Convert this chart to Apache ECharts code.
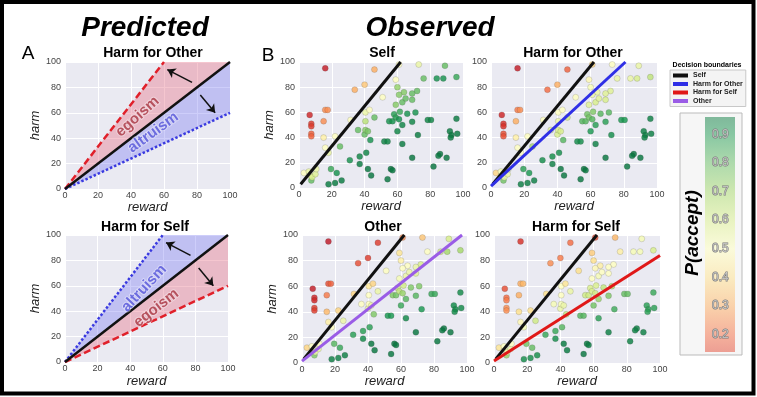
<!DOCTYPE html>
<html>
<head>
<meta charset="utf-8">
<script src="https://cdn.jsdelivr.net/npm/echarts@6/dist/echarts.min.js"></script>
<style>
html,body{margin:0;padding:0;background:#fff;}
#chart{width:757px;height:397px;}
</style>
</head>
<body>
<div id="chart"></div>
<script>
// trials (same reward/harm pairs in every observed panel)
var reward = [16,46,73,61,89,40,34,59,76,84,88,60,51,64,61,72,69,63,59,65,69,6.5,7.5,7.5,7.5,7.5,15,16,17.5,15,16,18,22,31.5,40.5,43,40.5,46,36,40,40.5,42,43.5,41,55,57,52,54,58,59,61,61.5,60,63,63,66,69,71,72.5,69,78.5,80.5,96,86,85,82,90,92,93,92.5,96.5,25,31,37,37,42,44,56,57,54,19.5,23,18,22,26,7.5,3,7,8,10,10.5,6,96];
var harm = [95,94,98,98,97,82,78,86,87,87,87,80,72,76,74,77,75,68,66,71,70,58,51,49,43,41,53,62,62,40,32,28,41,54,60,62,53,56,46,42.5,46,45,38,28,53,53,37,37,58.5,56,54.5,60.5,45,50,35,59,52.5,60,42,24,54,54,55,27,25.5,17,24,45,42,40,43,33,22,25,19,15,10,15,14,7,15,12,3,4,6,6,12,10,8.5,11,15,13,88];
var pSelf = [.06,.3,.55,.5,.8,.35,.3,.5,.8,.91,.91,.73,.5,.75,.75,.8,.8,.8,.75,.8,.8,.08,.12,.12,.18,.18,.25,.25,.25,.45,.5,.55,.5,.5,.55,.5,.66,.8,.8,.8,.75,.77,.91,.94,.91,.91,.94,.94,.88,.88,.91,.86,.94,.94,.96,.91,.94,.91,.96,.97,.94,.94,.96,.97,.97,.97,.97,.96,.96,.96,.96,.8,.91,.94,.96,.97,.97,.97,.97,.97,.86,.91,.96,.96,.96,.8,.5,.55,.6,.58,.55,.55,.86];
var pHarmOther = [.06,.18,.5,.38,.55,.3,.2,.48,.55,.55,.6,.52,.5,.55,.55,.58,.58,.6,.58,.58,.6,.08,.1,.1,.15,.15,.3,.22,.25,.45,.5,.5,.5,.5,.5,.5,.55,.62,.58,.6,.6,.6,.82,.92,.82,.82,.92,.92,.78,.78,.82,.76,.9,.88,.95,.82,.88,.82,.92,.97,.9,.9,.95,.97,.97,.97,.97,.95,.95,.95,.95,.7,.92,.92,.95,.97,.97,.97,.97,.97,.88,.9,.95,.95,.95,.78,.38,.52,.55,.55,.52,.52,.65];
var pOther = [.05,.12,.35,.25,.6,.12,.15,.42,.5,.62,.7,.45,.5,.5,.5,.6,.55,.55,.52,.55,.58,.06,.08,.08,.12,.12,.22,.15,.18,.32,.45,.5,.38,.38,.42,.38,.5,.55,.5,.55,.5,.55,.76,.88,.76,.78,.9,.9,.62,.65,.72,.62,.86,.82,.93,.76,.82,.76,.9,.97,.86,.86,.93,.97,.97,.97,.97,.93,.93,.93,.93,.55,.88,.88,.93,.97,.97,.97,.97,.97,.82,.86,.95,.95,.95,.76,.38,.5,.55,.55,.5,.5,.7];
var pHarmSelf = [.1,.2,.32,.15,.52,.22,.25,.36,.45,.52,.52,.4,.4,.45,.48,.5,.5,.52,.5,.5,.5,.15,.2,.22,.25,.25,.3,.3,.32,.4,.48,.52,.4,.4,.5,.42,.5,.55,.52,.55,.52,.55,.65,.82,.62,.62,.82,.82,.6,.6,.62,.6,.78,.72,.88,.65,.76,.68,.85,.95,.8,.8,.86,.95,.95,.95,.95,.88,.88,.88,.88,.62,.86,.86,.92,.96,.96,.96,.96,.97,.78,.8,.92,.92,.92,.72,.42,.5,.55,.55,.5,.5,.6];

var axisMin = 0, axisMax = 100, axisStep = 20;
var cbTicks = [0.2,0.3,0.4,0.5,0.6,0.7,0.8,0.9];
var cbRange = [0.14, 0.96];

// fitted decision boundaries (start, end)
var boundSelf = [[1,3],[62,100]];
var boundHarmOther = [[0,1.5],[81,100]];
var boundOther = [[0,1.5],[97,100]];
var boundHarmSelf = [[0,1.5],[100,84]];

// predicted boundaries
var predSelf = [[0,0],[100,100]];
var predSteep = [[0,0],[60,100]];
var predShallow = [[0,0],[100,60]];
var predArrows = [[[77,84],[62,94]],[[82,74],[91,60]]];
var labelPosTop = {egoism:[44,57], altruism:[53.5,44.5]};
var labelPosBottom = {altruism:[48.5,58], egoism:[56,42.5]};

var rdylgn = ['#a50026','#d73027','#f46d43','#fdae61','#fee08b','#ffffbf','#d9ef8b','#a6d96a','#66bd63','#1a9850','#006837'];
var FONT = 'Liberation Sans';
var BG = '#EAEAF2';

var chart = echarts.init(document.getElementById('chart'));

var grids = [
	{left:65, top:62, width:165, height:127},   // A harm for other
	{left:65, top:235, width:163, height:127},  // A harm for self
	{left:299, top:62, width:164, height:126},  // B self
	{left:491, top:62, width:166, height:126},  // B harm for other
	{left:302, top:235, width:165, height:128}, // B other
	{left:494, top:235, width:166, height:128}  // B harm for self
];
grids.forEach(function(g){ g.show = true; g.backgroundColor = BG; g.borderWidth = 0; });

// colourbar gradient
var cbStops = [];
var cbVals = [cbRange[1]].concat(cbTicks.slice().reverse()).concat([cbRange[0]]);
cbVals.forEach(function(v){
	cbStops.push({
		offset:(cbRange[1]-v)/(cbRange[1]-cbRange[0]),
		color: echarts.color.modifyAlpha(echarts.color.lerp(v, rdylgn), 0.5)
	});
});
grids.push({left:705, top:117, width:30, height:235, show:true, borderWidth:0,
	backgroundColor:{type:'linear', x:0, y:0, x2:0, y2:1, colorStops:cbStops}});

var xNameGap = [8, 13, 11, 11, 12, 12];
var xAxes = [], yAxes = [];
for (var i = 0; i < 6; i++) {
	xAxes.push({
		gridIndex:i, type:'value', min:axisMin, max:axisMax, interval:axisStep,
		name:'reward', nameLocation:'middle', nameGap:xNameGap[i],
		nameTextStyle:{fontStyle:'italic', fontSize:13, color:'#222', fontFamily:FONT},
		axisLine:{show:false}, axisTick:{show:false},
		axisLabel:{margin:2, fontSize:9, color:'#444', fontFamily:FONT},
		splitLine:{lineStyle:{color:'#fff', width:1}}
	});
	var showHarm = (i < 3 || i == 4);
	yAxes.push({
		gridIndex:i, type:'value', min:axisMin, max:axisMax, interval:axisStep,
		name: showHarm ? 'harm' : '', nameLocation:'middle', nameGap: i < 2 ? 16 : 15,
		nameTextStyle:{fontStyle:'italic', fontSize:13, color:'#222', fontFamily:FONT},
		axisLine:{show:false}, axisTick:{show:false},
		axisLabel:{margin:4, fontSize:9, color:'#444', fontFamily:FONT},
		splitLine:{lineStyle:{color:'#fff', width:1}}
	});
}
xAxes.push({gridIndex:6, type:'value', show:false});
yAxes.push({gridIndex:6, type:'value', min:cbRange[0], max:cbRange[1], z:5,
	axisLine:{show:false}, axisTick:{show:false}, splitLine:{show:false},
	axisLabel:{inside:true, customValues:cbTicks, margin:7, fontSize:12, fontFamily:FONT,
		color:'rgba(255,255,255,0.5)', textBorderColor:'#7a7a7a', textBorderWidth:1,
		formatter:function(v){ return v.toFixed(1); }}});

var series = [];
function polygon(gi, verts, fill){
	series.push({type:'custom', xAxisIndex:gi, yAxisIndex:gi, data:[0], silent:true, clip:true, z:1,
		renderItem:function(params, api){
			return {type:'polygon', shape:{points:verts.map(function(v){ return api.coord(v); })}, style:{fill:fill}};
		}});
}
function line(gi, pts, name, color, type, width){
	var s = {type:'line', name:name, xAxisIndex:gi, yAxisIndex:gi, data:pts, symbol:'none', silent:true,
		lineStyle:{color:color, width:width, type:type, cap:'butt'}, itemStyle:{color:color}, z:4, animation:false};
	series.push(s);
	return s;
}
function word(gi, pos, text, color, rot){
	series.push({type:'scatter', xAxisIndex:gi, yAxisIndex:gi, data:[pos], symbolSize:0, silent:true, z:5,
		label:{show:true, position:'inside', formatter:text, rotate:rot, fontSize:15, fontWeight:'bold',
			fontFamily:FONT, color:color, textBorderColor:'rgba(255,255,255,0.45)', textBorderWidth:2}});
}
function arrows(s){
	s.markLine = {silent:true, symbol:['none','arrow'], symbolSize:8, animation:false,
		label:{show:false}, lineStyle:{color:'#111', width:1.5, type:'solid'},
		data: predArrows.map(function(a){ return [{coord:a[0]}, {coord:a[1]}]; })};
}

var RED_FILL = 'rgba(232,120,140,0.42)', BLUE_FILL = 'rgba(120,120,240,0.36)';
var RED = '#e0202a', BLUE = '#3a3ae0', BLACK = '#111';

// A: harm for other
polygon(0, [predSteep[0], predSteep[1], predSelf[1]], RED_FILL);
polygon(0, [predSelf[0], predSelf[1], predShallow[1]], BLUE_FILL);
line(0, predSteep, 'p1', RED, [7,3.5], 2.5);
line(0, predShallow, 'p2', BLUE, [2.5,2], 2.5);
arrows(line(0, predSelf, 'p3', BLACK, 'solid', 2.5));
word(0, labelPosTop.egoism, 'egoism', '#a8323e', 42);
word(0, labelPosTop.altruism, 'altruism', '#5151d8', 36);

// A: harm for self
polygon(1, [predSteep[0], predSteep[1], predSelf[1]], BLUE_FILL);
polygon(1, [predSelf[0], predSelf[1], predShallow[1]], RED_FILL);
line(1, predSteep, 'p4', BLUE, [2.5,2], 2.5);
line(1, predShallow, 'p5', RED, [7,3.5], 2.5);
arrows(line(1, predSelf, 'p6', BLACK, 'solid', 2.5));
word(1, labelPosBottom.altruism, 'altruism', '#5151d8', 47);
word(1, labelPosBottom.egoism, 'egoism', '#a8323e', 38);

// B: observed
var panels = [
	{p:pSelf, bound:null},
	{p:pHarmOther, bound:boundHarmOther, name:'Harm for Other', color:'#2f2fe6'},
	{p:pOther, bound:boundOther, name:'Other', color:'#9a5ce6'},
	{p:pHarmSelf, bound:boundHarmSelf, name:'Harm for Self', color:'#e01818'}
];
var scatterIdx = [];
panels.forEach(function(pn, k){
	var gi = k + 2;
	scatterIdx.push(series.length);
	series.push({type:'scatter', name:'obs'+k, xAxisIndex:gi, yAxisIndex:gi, symbolSize:6, z:2, silent:true,
		data: reward.map(function(r, j){ return [r, harm[j], pn.p[j]]; }),
		itemStyle:{opacity:0.82, borderColor:'rgba(60,60,60,0.35)', borderWidth:0.6}});
	line(gi, boundSelf, 'Self', BLACK, 'solid', 3);
	if (pn.bound) line(gi, pn.bound, pn.name, pn.color, 'solid', 3);
});

function txt(x, y, text, font, extra){
	var o = {type:'text', x:x, y:y, z:10, style:{text:text, font:font, fill:'#000', align:'center', verticalAlign:'middle'}};
	if (extra) for (var k in extra) o[k] = extra[k];
	return o;
}

var option = {
	animation:false,
	backgroundColor:'#fff',
	grid:grids, xAxis:xAxes, yAxis:yAxes, series:series,
	visualMap:{type:'continuous', show:false, min:0, max:1, dimension:2, seriesIndex:scatterIdx,
		inRange:{color:rdylgn}},
	legend:{data:['Self','Harm for Other','Harm for Self','Other'], orient:'vertical', left:670, top:70,
		icon:'rect', itemWidth:15, itemHeight:4, itemGap:1.5, padding:[2,3,2,3], selectedMode:false,
		backgroundColor:'#f4f4f4', borderColor:'#c8c8c8', borderWidth:1,
		textStyle:{fontSize:7, fontWeight:'bold', color:'#222', fontFamily:FONT}},
	graphic:[
		{type:'rect', z:-1, shape:{x:680, y:113, width:62, height:242}, style:{fill:'#f6f6f6', stroke:'#bbb', lineWidth:1}},
		txt(145, 28, 'Predicted', 'italic bold 28px ' + FONT),
		txt(430, 28, 'Observed', 'italic bold 28px ' + FONT),
		txt(28, 54, 'A', '19px ' + FONT),
		txt(268, 56, 'B', '19px ' + FONT),
		txt(153, 53, 'Harm for Other', 'bold 14px ' + FONT),
		txt(145, 227, 'Harm for Self', 'bold 14px ' + FONT),
		txt(382, 53, 'Self', 'bold 14px ' + FONT),
		txt(573, 53, 'Harm for Other', 'bold 14px ' + FONT),
		txt(383, 227, 'Other', 'bold 14px ' + FONT),
		txt(576, 227, 'Harm for Self', 'bold 14px ' + FONT),
		txt(707, 65, 'Decision boundaries', 'bold 7px ' + FONT),
		txt(693, 233, 'P(accept)', 'italic bold 19px ' + FONT, {rotation:Math.PI/2}),
		{type:'rect', z:100, shape:{x:2, y:2, width:751.5, height:391.5}, style:{fill:'none', stroke:'#000', lineWidth:4}}
	]
};
chart.setOption(option);
</script>
</body>
</html>
